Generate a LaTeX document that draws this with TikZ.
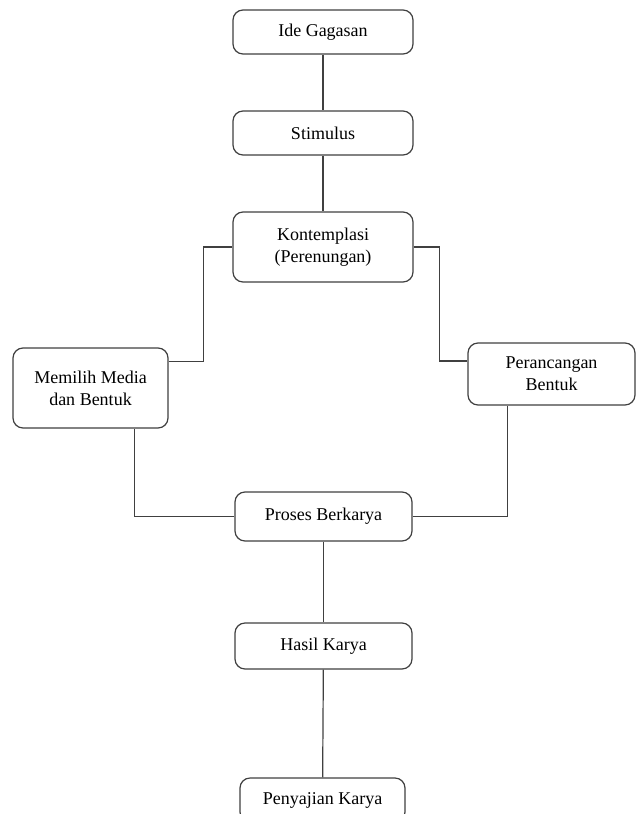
\documentclass[tikz,border=0pt]{standalone}
\usepackage{fontspec}
\setmainfont{Liberation Serif}
\usepackage{tikz}
\usetikzlibrary{calc}
\usetikzlibrary{positioning}

\begin{document}
\begin{tikzpicture}[x=0.5pt,y=-0.5pt]
	\tikzset{box/.style={draw=black!75,line width=0.6pt,rounded corners=5pt,align=center,fill=white,
			font=\fontsize{9}{11}\selectfont,inner sep=1pt}}
	\tikzset{line/.style={draw=black!75,line width=0.6pt}}
	\useasboundingbox (0,0) rectangle (637,814);
	\clip (0,0) rectangle (637,814);
	
	\node[box,minimum width=90pt,minimum height=22pt] (ide) at (323,32) {Ide Gagasan};
	\node[box,minimum width=90pt,minimum height=22pt] (stimulus) at (323,133) {Stimulus};
	\node[box,minimum width=90pt,minimum height=35pt] (kontemplasi) at (323,247) {Kontemplasi\\(Perenungan)};
	\node[box,minimum width=77.5pt,minimum height=40pt] (memilih) at (90.5,388) {Memilih Media\\dan Bentuk};
	\node[box,minimum width=83.5pt,minimum height=31pt] (perancangan) at (551.5,374) {Perancangan\\Bentuk};
	\node[box,minimum width=88.5pt,minimum height=24.5pt] (proses) at (323.5,516.5) {Proses Berkarya};
	\node[box,minimum width=88.5pt,minimum height=23pt] (hasil) at (323.5,646) {Hasil Karya};
	\node[box,minimum width=82.5pt,minimum height=22pt] (penyajian) at (322.5,800) {Penyajian Karya};
	
	\draw[line] (ide) -- (stimulus);
	\draw[line] (stimulus) -- (kontemplasi);
	\draw[line] ([yshift=-7pt]memilih.north east) -- ++(17.5pt,0) |- (kontemplasi.west);
	\draw[line] (kontemplasi.east) -- ++(13pt,0) |- ([yshift=6.5pt]perancangan.west);
	\draw[line] (proses.west) -| ([xshift=22pt]memilih.south);
	\draw[line] (proses.east) -| ([xshift=-22pt]perancangan.south);
	\draw[line] (proses) -- (hasil);
	\draw[line] (hasil) -- (penyajian);
	
\end{tikzpicture}
\end{document}
